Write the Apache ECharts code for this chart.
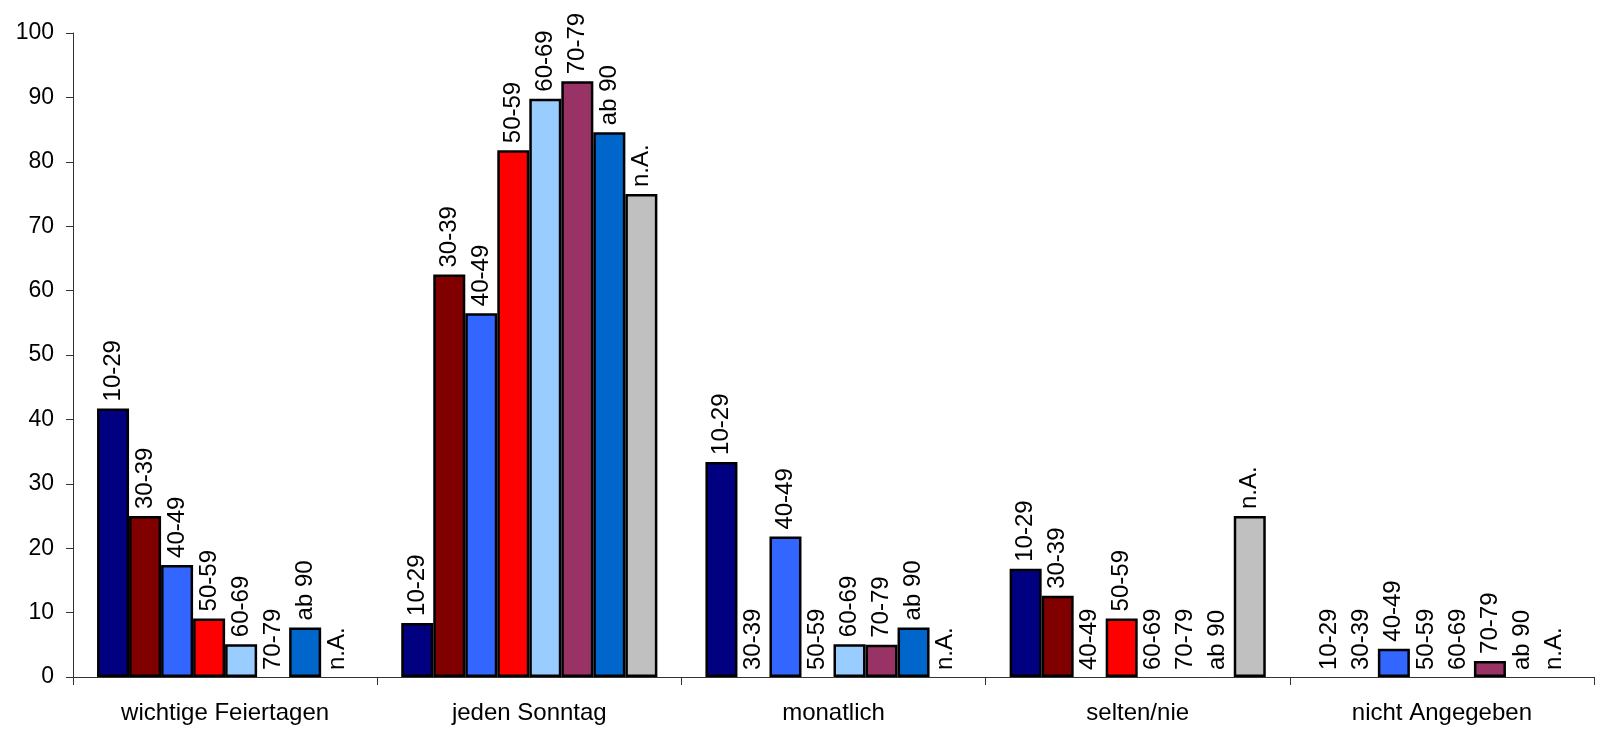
<!DOCTYPE html>
<html>
<head>
<meta charset="utf-8">
<script src="https://cdn.jsdelivr.net/npm/echarts@6/dist/echarts.min.js"></script>
<style>html,body{margin:0;padding:0;background:#fff}#c{width:1602px;height:729px}</style>
</head>
<body>
<div id="c"></div>
<script>
var categories = ['wichtige Feiertagen', 'jeden Sonntag', 'monatlich', 'selten/nie', 'nicht Angegeben'];
var seriesNames = ['10-29', '30-39', '40-49', '50-59', '60-69', '70-79', 'ab 90', 'n.A.'];
var v10_29 = [41.7, 8.4, 33.4, 16.8, 0];
var v30_39 = [25.0, 62.5, 0, 12.6, 0];
var v40_49 = [17.4, 56.5, 21.8, 0, 4.4];
var v50_59 = [9.1, 81.8, 0, 9.1, 0];
var v60_69 = [5.1, 89.8, 5.1, 0, 0];
var v70_79 = [0, 92.5, 5.0, 0, 2.5];
var vAb90 = [7.7, 84.6, 7.7, 0, 0];
var vNA = [0, 75.0, 0, 25.0, 0];
var yTicks = [0, 10, 20, 30, 40, 50, 60, 70, 80, 90, 100];

var allValues = [v10_29, v30_39, v40_49, v50_59, v60_69, v70_79, vAb90, vNA];
var colors = ['#000080', '#800000', '#3366FF', '#FF0000', '#99CCFF', '#993366', '#0066CC', '#C0C0C0'];
var FONT = '"Liberation Sans", Arial, sans-serif';

var series = seriesNames.map(function (name, i) {
  return {
    name: name,
    type: 'bar',
    barGap: '0%',
    barCategoryGap: '15.8%',
    data: allValues[i].map(function (v) {
      return v === 0 ? { value: v, itemStyle: { borderWidth: 0 } } : v;
    }),
    itemStyle: { color: colors[i], borderColor: '#000', borderWidth: 2.5 },
    label: {
      show: true,
      position: 'top',
      rotate: 90,
      align: 'left',
      verticalAlign: 'middle',
      distance: 7,
      formatter: name,
      color: '#000',
      fontFamily: FONT,
      fontSize: 24
    },
    emphasis: { disabled: true }
  };
});

var chart = echarts.init(document.getElementById('c'), null, { renderer: 'canvas' });
chart.setOption({
  animation: false,
  backgroundColor: '#fff',
  grid: { left: 73, right: 8, top: 33, bottom: 52, containLabel: false },
  xAxis: {
    type: 'category',
    data: categories,
    axisLine: { show: true, lineStyle: { color: '#333', width: 1 } },
    axisTick: { show: true, length: 8, lineStyle: { color: '#333' } },
    axisLabel: { color: '#000', fontFamily: FONT, fontSize: 24, margin: 24 },
    splitLine: { show: false }
  },
  yAxis: {
    type: 'value',
    min: yTicks[0],
    max: yTicks[yTicks.length - 1],
    interval: 10,
    axisLine: { show: true, lineStyle: { color: '#333', width: 1 } },
    axisTick: { show: true, length: 7, lineStyle: { color: '#333' } },
    axisLabel: { color: '#000', fontFamily: FONT, fontSize: 23, margin: 19 },
    splitLine: { show: false }
  },
  series: series
});
</script>
</body>
</html>
